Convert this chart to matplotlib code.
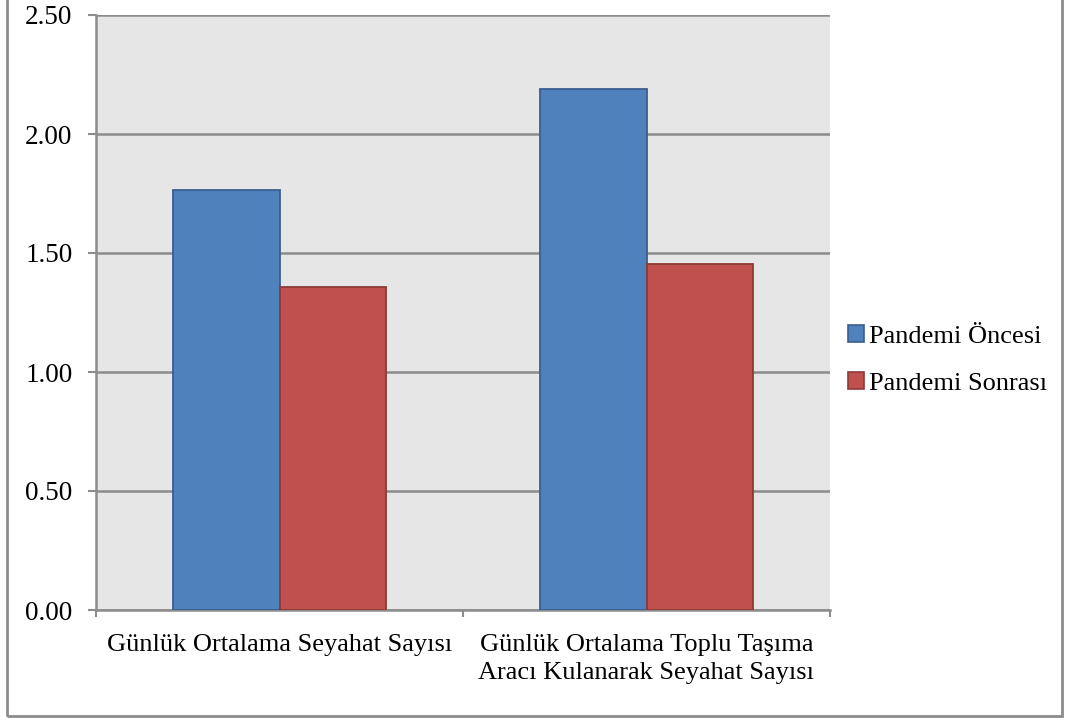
import matplotlib
matplotlib.use("Agg")
import matplotlib.pyplot as plt
from matplotlib.patches import Rectangle, Patch
import numpy as np

categories = ["Günlük Ortalama Seyahat Sayısı",
              "Günlük Ortalama Toplu Taşıma\nAracı Kulanarak Seyahat Sayısı"]
series_names = ["Pandemi Öncesi", "Pandemi Sonrası"]
oncesi = [1.766, 2.190]
sonrasi = [1.358, 1.454]
yticks = [0.0, 0.5, 1.0, 1.5, 2.0, 2.5]

blue, blue_edge = "#4F81BD", "#3A5F8E"
red, red_edge = "#C0504D", "#8E3A38"
grid_col = "#8C8C8C"

plt.rcParams["font.family"] = ["Liberation Serif", "DejaVu Serif"]
plt.rcParams["font.size"] = 19

fig = plt.figure(figsize=(10.66, 7.2), dpi=100)
ax = fig.add_axes([96 / 1066, 1 - 610 / 720, (830 - 96) / 1066, (610 - 15) / 720])
ax.set_facecolor("#E6E6E6")

x = np.arange(len(categories))
w = 0.289
ax.bar(x - w / 2, oncesi, w, color=blue, edgecolor=blue_edge, linewidth=1.3, zorder=3)
ax.bar(x + w / 2, sonrasi, w, color=red, edgecolor=red_edge, linewidth=1.3, zorder=3)

ax.set_xlim(-0.5, 1.5)
ax.set_ylim(0, 2.5)
ax.set_yticks(yticks)
ax.set_yticklabels([f"{v:.2f}" for v in yticks], fontsize=19.5)
ax.yaxis.grid(True, color=grid_col, linewidth=1.8, zorder=1)
ax.set_axisbelow(True)

# category labels sit between the boundary ticks
ax.set_xticks([-0.5, 0.5, 1.5])
ax.set_xticklabels([])
ax.set_xticks(x, minor=True)
ax.set_xticklabels(categories, minor=True, linespacing=1.35)
ax.tick_params(axis="x", which="minor", length=0, pad=17)
ax.tick_params(axis="x", which="major", length=5, width=1.5, color=grid_col)
ax.tick_params(axis="y", length=6, width=1.5, color=grid_col, pad=11)

for side in ("top", "right"):
    ax.spines[side].set_visible(False)
for side in ("left", "bottom"):
    ax.spines[side].set_color(grid_col)
    ax.spines[side].set_linewidth(1.8)

handles = [Patch(facecolor=blue, edgecolor=blue_edge, linewidth=1.2),
           Patch(facecolor=red, edgecolor=red_edge, linewidth=1.2)]
fig.legend(handles, series_names, loc="center left",
           bbox_to_anchor=(848 / 1066, 1 - 360 / 720), frameon=False,
           handlelength=0.6, handleheight=0.6, handletextpad=0.2,
           labelspacing=0.9, borderpad=0, borderaxespad=0)

# outer chart frame
fig.patches.append(Rectangle((7 / 1066, 1 - 716 / 720), (1062 - 7) / 1066, 716 / 720 + 0.01,
                             transform=fig.transFigure, fill=False,
                             edgecolor="#8C8C8C", linewidth=2, zorder=0))

fig.savefig("out.png", dpi=100)
